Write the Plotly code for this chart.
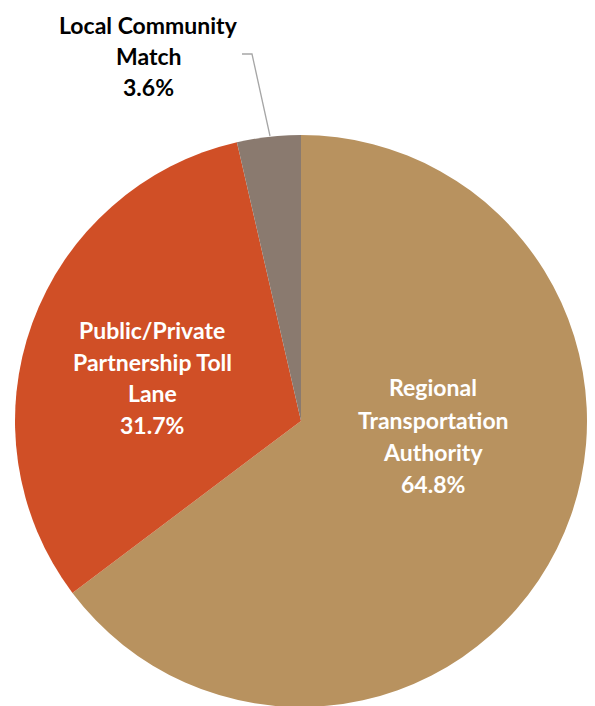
import plotly.graph_objects as go

W, H = 595, 706
OFF = 8  # page body margin shifts the figure by this much

labels = ['Regional Transportation Authority', 'Public/Private Partnership Toll Lane', 'Local Community Match']
values = [64.8, 31.7, 3.6]
colors = ['#B8925F', '#D04F26', '#8A7A6F']

# label text split into lines, with their placement (pixel centre, first line y, step)
label_lines = [
    ['Regional', 'Transportation', 'Authority', '64.8%'],
    ['Public/Private', 'Partnership Toll', 'Lane', '31.7%'],
    ['Local Community', 'Match', '3.6%'],
]
label_pos = [(433, 387, 32.5), (152, 330, 31.5), (148, 25, 31)]
label_color = ['white', 'white', 'black']

px_x = lambda x: (x - OFF) / W
px_y = lambda y: 1 - (y - OFF) / H

fig = go.Figure()
fig.add_trace(go.Pie(
    labels=labels, values=values, sort=False, direction='clockwise', rotation=0,
    marker=dict(colors=colors, line=dict(width=0)),
    textinfo='none', hoverinfo='label+percent', showlegend=False,
    domain=dict(x=[px_x(15), px_x(587)], y=[px_y(707), px_y(135)]),
))

annotations = []
for lines, (cx, y0, step), col in zip(label_lines, label_pos, label_color):
    for k, line in enumerate(lines):
        annotations.append(dict(
            x=px_x(cx), y=px_y(y0 + k * step), xref='paper', yref='paper',
            text=f'<b>{line}</b>', showarrow=False, xanchor='center', yanchor='middle',
            borderpad=0, font=dict(family='Lato', size=23, color=col),
        ))

# leader line for the small slice
fig.add_shape(type='path', xref='paper', yref='paper',
              path=f'M {px_x(242)} {px_y(54)} L {px_x(252)} {px_y(54)} L {px_x(270)} {px_y(136)}',
              line=dict(color='#A6A6A6', width=1.3))

fig.update_layout(
    width=W, height=H, margin=dict(l=0, r=0, t=0, b=0),
    paper_bgcolor='white', plot_bgcolor='white',
    annotations=annotations,
)
fig.write_html('out.html')
